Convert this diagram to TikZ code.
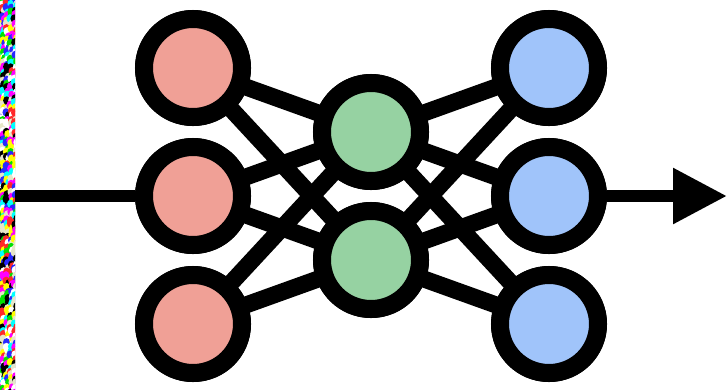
\documentclass[tikz,border=0pt]{standalone}
\usetikzlibrary{arrows.meta}
\definecolor{inred}{RGB}{240,160,150}
\definecolor{hidgreen}{RGB}{150,210,162}
\definecolor{outblue}{RGB}{160,196,250}
\definecolor{nz1}{RGB}{255,0,255}
\definecolor{nz2}{RGB}{255,255,0}
\definecolor{nz3}{RGB}{0,225,0}
\definecolor{nz4}{RGB}{0,255,255}
\definecolor{nz5}{RGB}{40,40,255}
\definecolor{nz6}{RGB}{255,255,255}
\definecolor{nz7}{RGB}{0,0,0}
\definecolor{nz8}{RGB}{255,40,40}
\definecolor{nz9}{RGB}{230,230,200}
\begin{document}
\begin{tikzpicture}[x=1pt,y=-1pt,
  neuron/.style={circle,draw=black,line width=18pt,minimum size=98pt,inner sep=0pt},
  edge/.style={line width=17pt,black},
  ioline/.style={line width=12pt,black}]
\useasboundingbox (0,0) rectangle (727,389);
\fill[white] (0,0) rectangle (727,389);
% noise strip
\pgfmathsetseed{7}
\begin{scope}
\clip (0,0) rectangle (15,389);
\foreach \i in {0,...,4}{
  \foreach \j in {0,...,100}{
    \pgfmathrandominteger{\c}{1}{9}
    \pgfmathsetmacro{\dx}{rnd*3}
    \pgfmathsetmacro{\dy}{rnd*3}
    \fill[nz\c] (\i*4-2+\dx,\j*4-2+\dy) ellipse (3.6pt and 4.2pt);
  }
}
\end{scope}
% nodes
\node[neuron,fill=inred] (a1) at (193,68) {};
\node[neuron,fill=inred] (a2) at (193,196) {};
\node[neuron,fill=inred] (a3) at (193,324) {};
\node[neuron,fill=hidgreen] (b1) at (371,132) {};
\node[neuron,fill=hidgreen] (b2) at (371,260) {};
\node[neuron,fill=outblue] (c1) at (549,68) {};
\node[neuron,fill=outblue] (c2) at (549,196) {};
\node[neuron,fill=outblue] (c3) at (549,324) {};
\coordinate (in) at (15,196);
\coordinate (out) at (727,196);
% edges
\foreach \a in {a1,a2,a3}{
  \foreach \b in {b1,b2}{
    \draw[edge] (\a.center) -- (\b.center);
  }
}
\foreach \b in {b1,b2}{
  \foreach \c in {c1,c2,c3}{
    \draw[edge] (\b.center) -- (\c.center);
  }
}
% redraw nodes on top of edges
\node[neuron,fill=inred] at (a1) {};
\node[neuron,fill=inred] at (a2) {};
\node[neuron,fill=inred] at (a3) {};
\node[neuron,fill=hidgreen] at (b1) {};
\node[neuron,fill=hidgreen] at (b2) {};
\node[neuron,fill=outblue] at (c1) {};
\node[neuron,fill=outblue] at (c2) {};
\node[neuron,fill=outblue] at (c3) {};
\draw[ioline] (in) -- (a2);
\draw[ioline,-{Triangle[length=54pt,width=53pt]}] (c2) -- (out);
\end{tikzpicture}
\end{document}
